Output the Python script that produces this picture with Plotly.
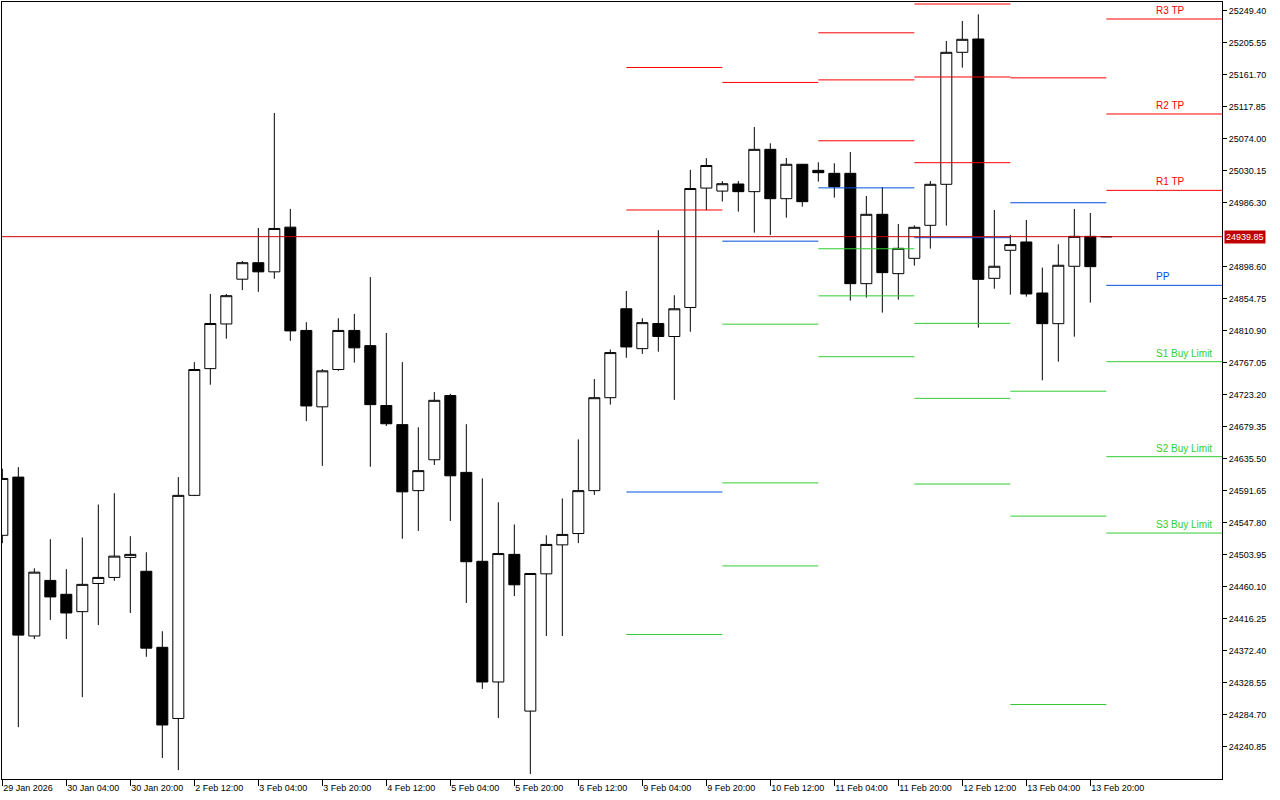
import plotly.graph_objects as go

# H4 bars, 29 Jan 2026 12:00 .. 16 Feb 2026 00:00 (bar index on the x axis)
opens = [24530.8, 24610.5, 24392.9, 24469.0, 24450.0, 24426.2, 24464.8, 24473.1, 24500.5, 24481.5,
         24377.4, 24279.9, 24585.5, 24759.1, 24820.3, 24881.6, 24904.2, 24891.7, 24952.9, 24811.4,
         24706.8, 24757.9, 24811.4, 24790.6, 24708.6, 24682.4, 24592.0, 24634.3, 24722.2, 24617.0,
         24495.2, 24329.9, 24504.7, 24290.0, 24478.0, 24517.7, 24533.2, 24592.0, 24719.3, 24841.1,
         24786.5, 24820.9, 24803.1, 24842.9, 25006.4, 25002.3, 25012.0, 25001.5, 25059.5, 24991.9,
         25039.0, 25030.7, 25026.6, 25026.6, 24875.5, 24970.5, 24889.2, 24910.2, 24955.4, 25011.6,
         25192.4, 25210.6, 24882.8, 24921.2, 24932.6, 24862.7, 24820.7, 24899.3, 24940.3, 24939.85]
highs = [24622.0, 24624.2, 24485.6, 24525.5, 24484.4, 24527.8, 24573.0, 24588.5, 24529.6, 24507.6,
         24399.4, 24610.5, 24768.0, 24861.4, 24861.4, 24906.5, 24951.7, 25109.3, 24977.9, 24822.7,
         24758.5, 24828.1, 24834.0, 24884.5, 24807.9, 24768.0, 24678.8, 24727.0, 24724.6, 24683.0,
         24608.7, 24576.0, 24545.7, 24478.5, 24530.8, 24581.3, 24662.2, 24744.8, 24785.3, 24865.5,
         24828.1, 24948.7, 24859.6, 25031.4, 25047.4, 25015.9, 25016.1, 25090.1, 25067.7, 25047.6,
         25039.5, 25041.7, 25040.3, 25055.9, 24995.6, 25007.9, 24957.3, 24955.4, 25016.1, 25207.9,
         25235.3, 25244.4, 24976.4, 24942.2, 24962.7, 24897.5, 24929.4, 24977.8, 24972.3, 24939.85]
lows = [24520.0, 24268.0, 24388.7, 24414.9, 24388.7, 24309.1, 24407.8, 24468.4, 24424.4, 24364.4,
        24225.8, 24209.2, 24584.5, 24737.1, 24800.1, 24866.7, 24864.3, 24882.2, 24797.1, 24687.2,
        24625.9, 24756.0, 24767.4, 24624.7, 24680.6, 24526.1, 24536.8, 24627.1, 24550.4, 24438.1,
        24320.4, 24280.5, 24447.6, 24203.8, 24392.9, 24392.9, 24520.1, 24586.1, 24709.8, 24774.0,
        24779.3, 24782.3, 24716.3, 24809.6, 24976.1, 24988.0, 24974.1, 24945.4, 24942.2, 24965.9,
        24981.0, 25015.2, 24993.3, 24852.2, 24856.4, 24835.8, 24853.6, 24900.2, 24923.5, 24955.0,
        25171.4, 24815.2, 24868.6, 24860.4, 24857.7, 24743.1, 24768.7, 24802.9, 24849.5, 24939.85]
closes = [24608.7, 24394.1, 24480.3, 24446.4, 24424.4, 24463.6, 24473.1, 24502.3, 24504.7, 24376.2,
          24271.0, 24585.5, 24757.9, 24820.9, 24859.0, 24904.2, 24891.7, 24951.1, 24810.8, 24708.0,
          24756.1, 24811.4, 24787.6, 24709.8, 24683.6, 24590.3, 24619.4, 24715.7, 24612.3, 24494.6,
          24329.9, 24505.8, 24463.0, 24478.5, 24518.3, 24532.0, 24592.0, 24719.3, 24781.1, 24788.8,
          24822.1, 24803.1, 24841.1, 25005.8, 25037.3, 25012.4, 25001.5, 25059.5, 24991.9, 25039.0,
          24987.8, 25027.5, 25008.3, 24875.5, 24970.5, 24890.6, 24923.9, 24952.7, 25011.6, 25192.4,
          25210.2, 24881.4, 24899.3, 24929.0, 24861.4, 24820.7, 24900.7, 24940.3, 24898.8, 24939.85]

time_labels = ["29 Jan 2026", "30 Jan 04:00", "30 Jan 20:00", "2 Feb 12:00", "3 Feb 04:00",
               "3 Feb 20:00", "4 Feb 12:00", "5 Feb 04:00", "5 Feb 20:00", "6 Feb 12:00",
               "9 Feb 04:00", "9 Feb 20:00", "10 Feb 12:00", "11 Feb 04:00", "11 Feb 20:00",
               "12 Feb 12:00", "13 Feb 04:00", "13 Feb 20:00"]
label_every = 4

price_ticks = [25249.40, 25205.55, 25161.70, 25117.85, 25074.00, 25030.15, 24986.30,
               24898.60, 24854.75, 24810.90, 24767.05, 24723.20, 24679.35, 24635.50,
               24591.65, 24547.80, 24503.95, 24460.10, 24416.25, 24372.40, 24328.55,
               24284.70, 24240.85]

last_price = 24939.85

# daily pivot levels (day start bar, then level values; None = off screen)
day_start = [39, 45, 51, 57, 63, 69]
r3 = [None, None, 25219.1, 25258.5, None, 25238.0]
r2 = [25171.6, None, 25154.6, 25158.6, None, 25107.9]
r1 = [24976.4, 25151.1, 25071.2, 25041.2, 25157.4, 25003.3]
pp = [24590.1, 24933.7, 25006.7, 24938.5, 24986.3, 24873.2]
s1 = [24394.9, 24820.0, 24923.3, 24821.1, 24728.2, 24768.6]
s2 = [None, 24602.6, 24858.8, 24718.4, 24557.1, 24638.5]
s3 = [None, 24488.9, 24775.4, 24601.0, 24299.0, 24533.9]
level_names = ["R3 TP", "R2 TP", "R1 TP", "PP", "S1 Buy Limit", "S2 Buy Limit", "S3 Buy Limit"]

X_MIN, X_MAX = -0.02, 76.23
Y_MIN, Y_MAX = 24197.0, 25261.3
RED, BLUE, GREEN = "#FF0000", "#0050DC", "#32CD32"
FONT = "Liberation Sans"

fig = go.Figure()

levels = [(r3, RED), (r2, RED), (r1, RED), (pp, BLUE), (s1, GREEN), (s2, GREEN), (s3, GREEN)]
ends = day_start[1:] + [X_MAX]
for vals, col in levels:
    xs, ys = [], []
    for a, b, v in zip(day_start, ends, vals):
        if v is None:
            continue
        xs += [a, b, None]
        ys += [v, v, None]
    fig.add_trace(go.Scatter(x=xs, y=ys, mode="lines", line=dict(color=col, width=1),
                             hoverinfo="skip", showlegend=False))

# current price line
fig.add_trace(go.Scatter(x=[X_MIN, X_MAX], y=[last_price, last_price], mode="lines",
                         line=dict(color="#D00000", width=1), hoverinfo="skip", showlegend=False))

bars = list(range(len(opens)))
fig.add_trace(go.Candlestick(
    x=bars, open=opens, high=highs, low=lows, close=closes,
    increasing=dict(fillcolor="white", line=dict(color="black", width=1)),
    decreasing=dict(fillcolor="black", line=dict(color="black", width=1)),
    whiskerwidth=0, showlegend=False,
))

# labels on the current day's levels
label_bar = 72
for name, (vals, col) in zip(level_names, levels):
    fig.add_annotation(x=label_bar, y=vals[-1], text=name, showarrow=False,
                       xanchor="left", yanchor="bottom", yshift=1,
                       font=dict(family=FONT, size=10, color=col))

fig.add_annotation(xref="paper", x=1, y=last_price, text=f"{last_price:.2f}",
                   showarrow=False, xanchor="left", xshift=2, bgcolor="#C00000",
                   borderpad=1, font=dict(family=FONT, size=9, color="white"))

fig.update_layout(
    width=1280, height=800,
    margin=dict(l=2, r=58, t=2, b=21),
    paper_bgcolor="white", plot_bgcolor="white",
    boxgap=0.3125, boxgroupgap=0,
    font=dict(family=FONT, size=9, color="black"),
    showlegend=False,
)
fig.update_xaxes(
    range=[X_MIN, X_MAX], rangeslider_visible=False,
    tickmode="array", tickvals=bars[::label_every][:len(time_labels)], ticktext=time_labels,
    ticks="outside", ticklen=6, tickcolor="black", ticklabelposition="outside right",
    showline=True, linecolor="black", linewidth=1, mirror=True,
    showgrid=False, zeroline=False,
)
fig.update_yaxes(
    range=[Y_MIN, Y_MAX], side="right",
    tickmode="array", tickvals=price_ticks, ticktext=[f"{v:.2f}" for v in price_ticks],
    ticks="outside", ticklen=4, tickcolor="black",
    showline=True, linecolor="black", linewidth=1, mirror=True,
    showgrid=False, zeroline=False,
)

fig.write_html("out.html", config={"displayModeBar": False},
               post_script="document.body.style.margin='0';")
